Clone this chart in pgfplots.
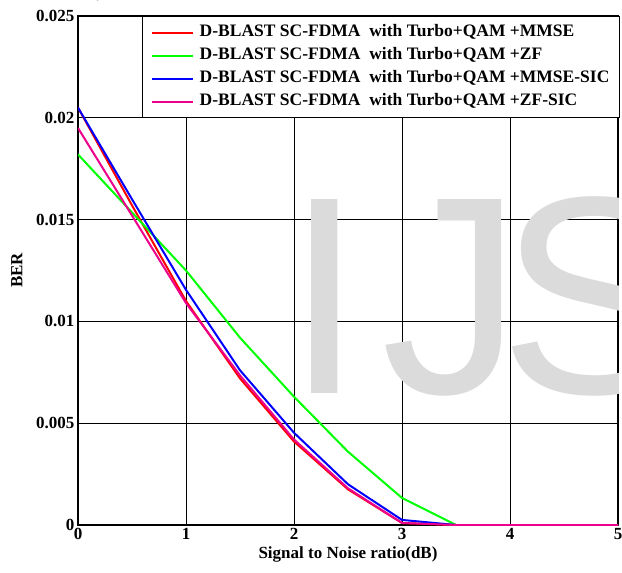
\documentclass[border=0pt]{standalone}
\usepackage{pgfplots}
\pgfplotsset{compat=1.18}
\usepackage{fontspec}
\setmainfont{Liberation Serif}
\newfontfamily\wmfont{Liberation Sans}
\pgfplotsset{legend image code/.code={\draw[#1, line width=2pt] (0pt,0pt) -- (41pt,0pt);}}
\begin{document}
\begin{tikzpicture}
\begin{axis}[
 set layers,
 scale only axis,
 width=540pt, height=509pt,
 xmin=0, xmax=5, ymin=0, ymax=0.025,
 xtick={0,1,2,3,4,5},
 xticklabels={0,1,2,3,4,5},
 ytick={0,0.005,0.01,0.015,0.02,0.025},
 yticklabels={0,0.005,0.01,0.015,0.02,0.025},
 grid=major,
 major grid style={black, line width=0.6pt},
 axis line style={black, line width=1.4pt},
 tick align=inside,
 major tick length=4pt,
 tick style={black, line width=0.6pt},
 ticklabel style={font=\fontsize{17}{17}\selectfont\bfseries},
 /pgf/number format/assume math mode=true,
 xlabel={Signal to Noise ratio(dB)},
 ylabel={BER},
 label style={font=\fontsize{17}{17}\selectfont\bfseries},
 ylabel style={yshift=7pt},
 legend style={at={(1.004,1)}, anchor=north east, draw=black, line width=1.5pt,
   font=\fontsize{17.5}{17.5}\selectfont\bfseries, row sep=3pt,
   inner xsep=8pt, inner ysep=6pt,
   nodes={inner sep=2pt, text height=12pt, text depth=4pt},
   /tikz/every odd column/.append style={column sep=4pt}},
 legend cell align=left,
 every axis plot/.append style={line width=2pt},
]
\node[on layer=axis background, anchor=base west, text=black!14,
  font=\wmfont\fontsize{282}{282}\selectfont, inner sep=0pt] at (axis cs:1.917,0.00648) {I\kern18pt J\kern-23pt S};
\addplot[red] coordinates {(0,0.0205)(0.5,0.0157)(1,0.0110)(1.5,0.0072)(2,0.0041)(2.5,0.00175)(3,0.0001)(3.5,0)(4,0)(4.5,0)(5,0)};
\addlegendentry{D-BLAST SC-FDMA\ \ with Turbo+QAM +MMSE}
\addplot[green] coordinates {(0,0.0182)(0.5,0.01535)(1,0.0125)(1.5,0.0092)(2,0.0063)(2.5,0.0036)(3,0.00133)(3.5,0)(4,0)(4.5,0)(5,0)};
\addlegendentry{D-BLAST SC-FDMA\ \ with Turbo+QAM +ZF}
\addplot[blue] coordinates {(0,0.0205)(0.5,0.0160)(1,0.01155)(1.5,0.0076)(2,0.00453)(2.5,0.0020)(3,0.00025)(3.5,0)(4,0)(4.5,0)(5,0)};
\addlegendentry{D-BLAST SC-FDMA\ \ with Turbo+QAM +MMSE-SIC}
\addplot[magenta] coordinates {(0,0.0195)(0.5,0.0152)(1,0.0109)(1.5,0.00735)(2,0.0042)(2.5,0.0018)(3,0.0001)(3.5,0)(4,0)(4.5,0)(5,0)};
\addlegendentry{D-BLAST SC-FDMA\ \ with Turbo+QAM +ZF-SIC}
\end{axis}
\pgfresetboundingbox
\path ([shift={(-78pt,-47pt)}]current axis.south west) rectangle ([shift={(4pt,16pt)}]current axis.north east);
\end{tikzpicture}
\end{document}
